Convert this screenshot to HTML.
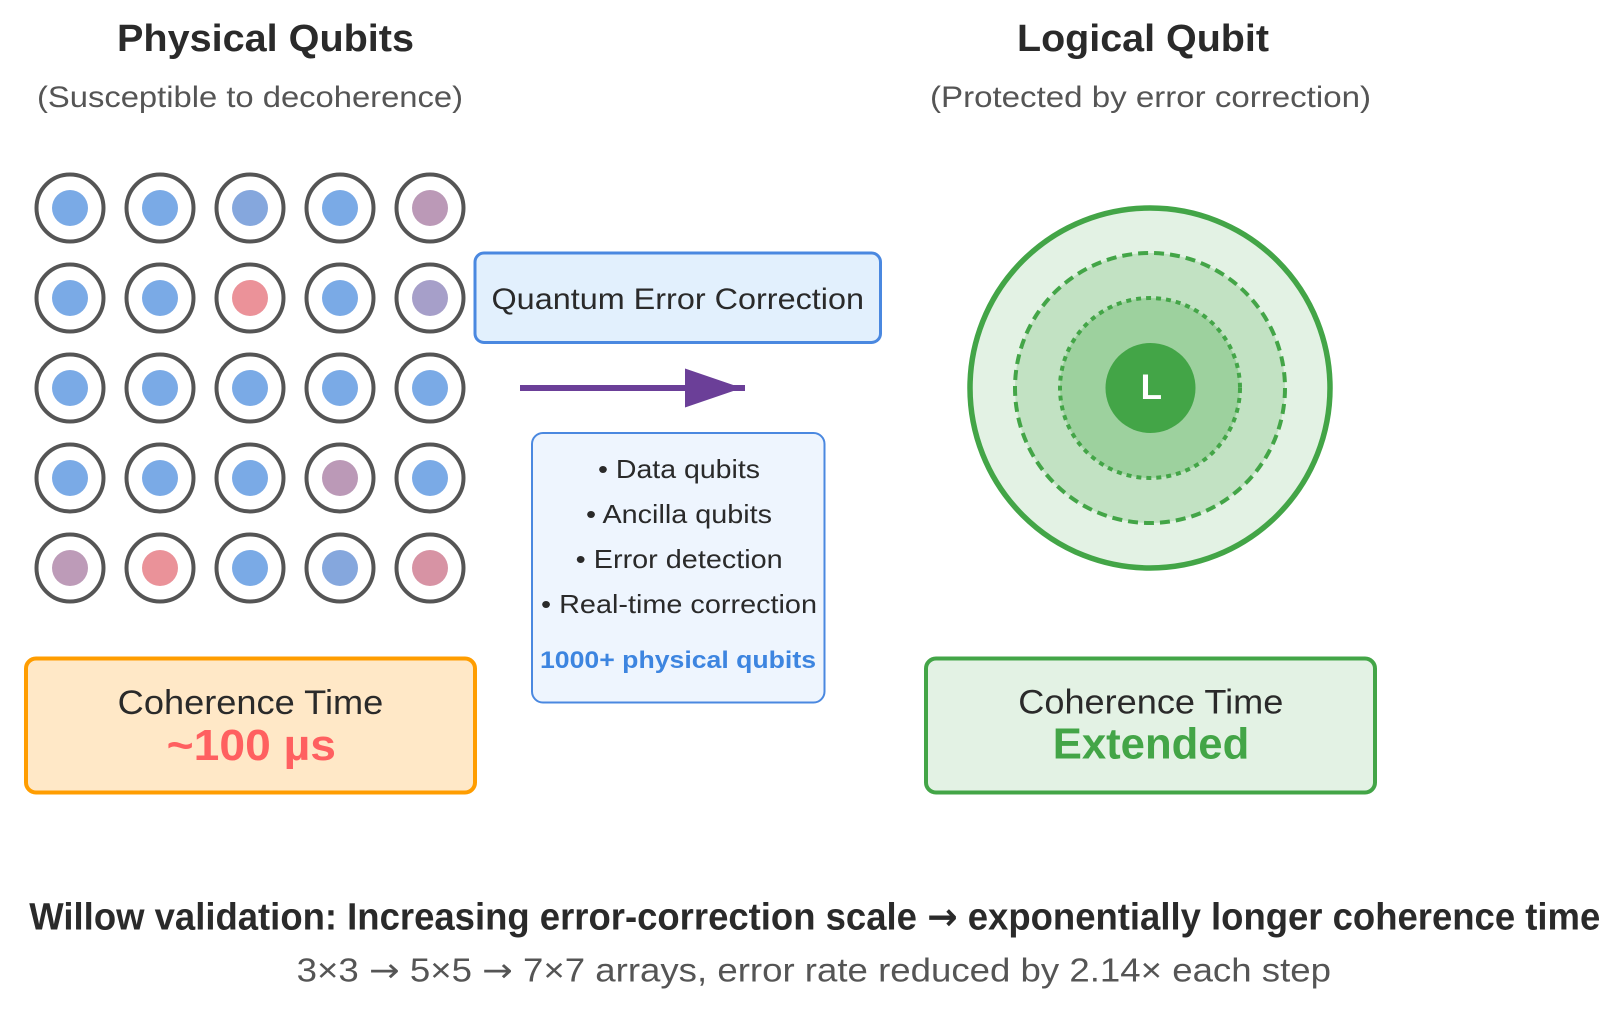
<!DOCTYPE html>
<html>
<head>
<meta charset="utf-8">
<style>
  html, body { margin: 0; padding: 0; background: #ffffff; }
  svg { display: block; }
  text { font-family: "Liberation Sans", "DejaVu Sans", sans-serif; }
  .arr { font-family: "DejaVu Sans", sans-serif; }
</style>
</head>
<body>
<svg width="1622" height="1028" viewBox="0 0 1622 1028" xmlns="http://www.w3.org/2000/svg">
  <rect x="0" y="0" width="1622" height="1028" fill="#ffffff"/>

  <!-- Titles -->
  <text x="117" y="51" font-size="38" font-weight="bold" fill="#2a2a2a" textLength="297" lengthAdjust="spacingAndGlyphs">Physical Qubits</text>
  <text x="37" y="107" font-size="30" fill="#555555" textLength="426" lengthAdjust="spacingAndGlyphs">(Susceptible to decoherence)</text>
  <text x="1017" y="51" font-size="38" font-weight="bold" fill="#2a2a2a" textLength="252" lengthAdjust="spacingAndGlyphs">Logical Qubit</text>
  <text x="930" y="107" font-size="30" fill="#555555" textLength="441" lengthAdjust="spacingAndGlyphs">(Protected by error correction)</text>

  <!-- Physical qubit grid -->
  <g stroke="#555555" stroke-width="4" fill="#ffffff">
    <circle cx="70" cy="208" r="33.5"/><circle cx="160" cy="208" r="33.5"/><circle cx="250" cy="208" r="33.5"/><circle cx="340" cy="208" r="33.5"/><circle cx="430" cy="208" r="33.5"/>
    <circle cx="70" cy="298" r="33.5"/><circle cx="160" cy="298" r="33.5"/><circle cx="250" cy="298" r="33.5"/><circle cx="340" cy="298" r="33.5"/><circle cx="430" cy="298" r="33.5"/>
    <circle cx="70" cy="388" r="33.5"/><circle cx="160" cy="388" r="33.5"/><circle cx="250" cy="388" r="33.5"/><circle cx="340" cy="388" r="33.5"/><circle cx="430" cy="388" r="33.5"/>
    <circle cx="70" cy="478" r="33.5"/><circle cx="160" cy="478" r="33.5"/><circle cx="250" cy="478" r="33.5"/><circle cx="340" cy="478" r="33.5"/><circle cx="430" cy="478" r="33.5"/>
    <circle cx="70" cy="568" r="33.5"/><circle cx="160" cy="568" r="33.5"/><circle cx="250" cy="568" r="33.5"/><circle cx="340" cy="568" r="33.5"/><circle cx="430" cy="568" r="33.5"/>
  </g>
  <g>
    <circle cx="70" cy="208" r="18" fill="#7aaae6"/><circle cx="160" cy="208" r="18" fill="#7aaae6"/><circle cx="250" cy="208" r="18" fill="#85a7dd"/><circle cx="340" cy="208" r="18" fill="#7aaae6"/><circle cx="430" cy="208" r="18" fill="#bb99b7"/>
    <circle cx="70" cy="298" r="18" fill="#7aaae6"/><circle cx="160" cy="298" r="18" fill="#7aaae6"/><circle cx="250" cy="298" r="18" fill="#eb9299"/><circle cx="340" cy="298" r="18" fill="#7aaae6"/><circle cx="430" cy="298" r="18" fill="#a69fc9"/>
    <circle cx="70" cy="388" r="18" fill="#7aaae6"/><circle cx="160" cy="388" r="18" fill="#7aaae6"/><circle cx="250" cy="388" r="18" fill="#7aaae6"/><circle cx="340" cy="388" r="18" fill="#7aaae6"/><circle cx="430" cy="388" r="18" fill="#7aaae6"/>
    <circle cx="70" cy="478" r="18" fill="#7aaae6"/><circle cx="160" cy="478" r="18" fill="#7aaae6"/><circle cx="250" cy="478" r="18" fill="#7aaae6"/><circle cx="340" cy="478" r="18" fill="#bb99b7"/><circle cx="430" cy="478" r="18" fill="#7aaae6"/>
    <circle cx="70" cy="568" r="18" fill="#bd9bb8"/><circle cx="160" cy="568" r="18" fill="#ea9299"/><circle cx="250" cy="568" r="18" fill="#7aaae6"/><circle cx="340" cy="568" r="18" fill="#85a7dd"/><circle cx="430" cy="568" r="18" fill="#d793a4"/>
  </g>

  <!-- QEC box -->
  <rect x="475" y="253" width="405.5" height="89.5" rx="9" ry="9" fill="#e2f0fd" stroke="#4a88e0" stroke-width="3"/>
  <text x="491.5" y="309" font-size="30" fill="#2a2a2a" textLength="372.5" lengthAdjust="spacingAndGlyphs">Quantum Error Correction</text>

  <!-- Arrow -->
  <line x1="520" y1="388" x2="745" y2="388" stroke="#6b3f98" stroke-width="6"/>
  <polygon points="685,368.5 742,388 685,407.5" fill="#6b3f98"/>

  <!-- Info box -->
  <rect x="532" y="433" width="292.5" height="269.5" rx="11" ry="11" fill="#eef5fe" stroke="#4a88e0" stroke-width="2"/>
  <text x="598" y="478" font-size="26" fill="#2a2a2a" textLength="162" lengthAdjust="spacingAndGlyphs">• Data qubits</text>
  <text x="586" y="523" font-size="26" fill="#2a2a2a" textLength="186" lengthAdjust="spacingAndGlyphs">• Ancilla qubits</text>
  <text x="575.7" y="568" font-size="26" fill="#2a2a2a" textLength="207" lengthAdjust="spacingAndGlyphs">• Error detection</text>
  <text x="541" y="613" font-size="26" fill="#2a2a2a" textLength="276" lengthAdjust="spacingAndGlyphs">• Real-time correction</text>
  <text x="540" y="668" font-size="24" font-weight="bold" fill="#3d85e0" textLength="276" lengthAdjust="spacingAndGlyphs">1000+ physical qubits</text>

  <!-- Logical qubit -->
  <circle cx="1150" cy="388" r="180" fill="#e3f2e4" stroke="#43a547" stroke-width="5.5"/>
  <circle cx="1150" cy="388" r="135" fill="#c2e2c3" stroke="#43a547" stroke-width="4" stroke-dasharray="10 6"/>
  <circle cx="1150" cy="388" r="90" fill="#9dd19e" stroke="#43a547" stroke-width="4" stroke-dasharray="5 5"/>
  <circle cx="1150.5" cy="388" r="45" fill="#43a547"/>
  <text x="1151.3" y="399" font-size="35" font-weight="bold" fill="#ffffff" text-anchor="middle">L</text>

  <!-- Coherence boxes -->
  <rect x="26" y="658.5" width="449" height="134" rx="10" ry="10" fill="#ffe8c7" stroke="#ff9d00" stroke-width="4"/>
  <text x="117.7" y="714" font-size="34" fill="#2a2a2a" textLength="265.6" lengthAdjust="spacingAndGlyphs">Coherence Time</text>
  <text x="166.7" y="760" font-size="44" font-weight="bold" fill="#ff6060" textLength="169.3" lengthAdjust="spacingAndGlyphs">~100 µs</text>

  <rect x="926" y="658.5" width="449" height="134" rx="10" ry="10" fill="#e3f2e4" stroke="#43a547" stroke-width="4"/>
  <text x="1018.3" y="713.5" font-size="34" fill="#2a2a2a" textLength="265" lengthAdjust="spacingAndGlyphs">Coherence Time</text>
  <text x="1052.7" y="758.5" font-size="44" font-weight="bold" fill="#43a547" textLength="196.6" lengthAdjust="spacingAndGlyphs">Extended</text>

  <!-- Bottom text -->
  <text x="29.3" y="929.3" font-size="38" font-weight="bold" fill="#2a2a2a" textLength="1571" lengthAdjust="spacingAndGlyphs">Willow validation: Increasing error-correction scale <tspan class="arr">→</tspan> exponentially longer coherence time</text>
  <text x="296.7" y="981.7" font-size="33" fill="#555555" textLength="1034.3" lengthAdjust="spacingAndGlyphs">3×3 <tspan class="arr">→</tspan> 5×5 <tspan class="arr">→</tspan> 7×7 arrays, error rate reduced by 2.14× each step</text>
</svg>
</body>
</html>
